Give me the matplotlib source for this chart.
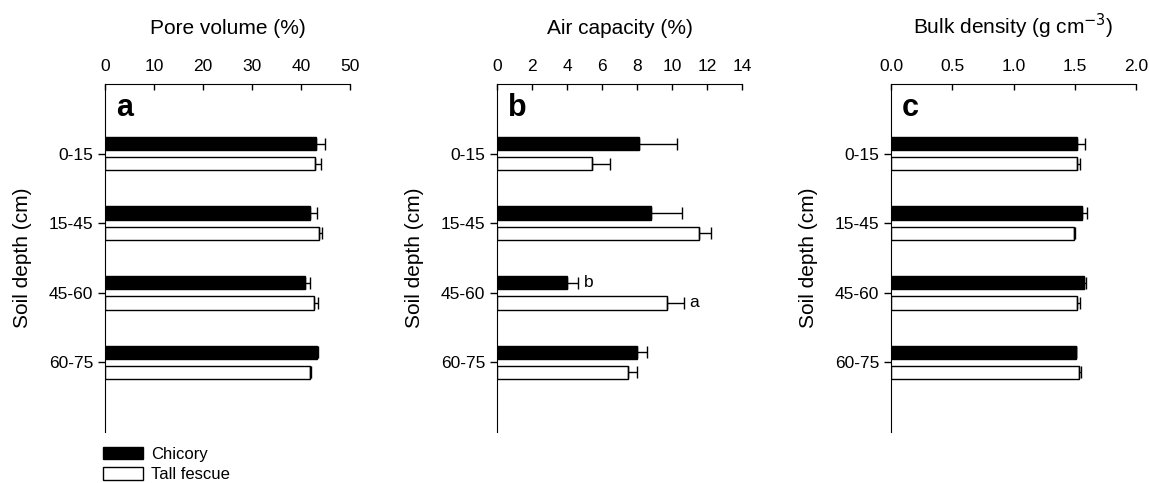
import numpy as np
import matplotlib
matplotlib.use('Agg')
import matplotlib.pyplot as plt
from matplotlib.patches import Patch

plt.rcParams['font.family'] = ['Liberation Sans', 'DejaVu Sans']

depths = ['0-15', '15-45', '45-60', '60-75']

# Pore volume (%)
pore_chic = [43.0, 41.8, 40.9, 43.3]
pore_chic_err = [1.9, 1.4, 0.9, 0.2]
pore_fesc = [42.9, 43.7, 42.7, 41.8]
pore_fesc_err = [1.1, 0.5, 0.8, 0.3]

# Air capacity (%)
air_chic = [8.14, 8.82, 4.01, 8.0]
air_chic_err = [2.16, 1.77, 0.63, 0.55]
air_fesc = [5.43, 11.55, 9.69, 7.48]
air_fesc_err = [1.02, 0.68, 0.98, 0.5]

# Bulk density (g cm-3)
bd_chic = [1.517, 1.558, 1.572, 1.507]
bd_chic_err = [0.063, 0.043, 0.016, 0.0]
bd_fesc = [1.515, 1.493, 1.515, 1.533]
bd_fesc_err = [0.03, 0.005, 0.03, 0.02]

fs = 12.5
fig = plt.figure(figsize=(11.49, 4.83), dpi=100)

panels = [
    (105, 'Pore volume (%)', 'a', pore_chic, pore_chic_err, pore_fesc, pore_fesc_err,
     (0, 50), np.arange(0, 51, 10), '{:.0f}'),
    (497, 'Air capacity (%)', 'b', air_chic, air_chic_err, air_fesc, air_fesc_err,
     (0, 14), np.arange(0, 15, 2), '{:.0f}'),
    (891, 'Bulk density (g cm$^{-3}$)', 'c', bd_chic, bd_chic_err, bd_fesc, bd_fesc_err,
     (0, 2.0), np.arange(0, 2.01, 0.5), '{:.1f}'),
]

y = np.arange(len(depths))
h = 0.19
off = 0.145
ekw = dict(ecolor='black', elinewidth=1, capsize=4, capthick=1)

for left, title, letter, c, ce, f, fe, xl, xt, fmt in panels:
    ax = fig.add_axes([left / 1149, 1 - 432 / 483, 245 / 1149, 348 / 483])
    ax.barh(y - off, c, height=h, color='black', edgecolor='black', linewidth=1,
            xerr=[np.zeros(4), ce], error_kw=ekw)
    ax.barh(y + off, f, height=h, color='white', edgecolor='black', linewidth=1,
            xerr=[np.zeros(4), fe], error_kw=ekw)
    ax.set_xlim(*xl)
    ax.set_ylim(4, -1)
    ax.set_xticks(xt)
    ax.set_xticklabels([fmt.format(v) for v in xt], fontsize=fs)
    ax.set_yticks(y)
    ax.set_yticklabels(depths, fontsize=fs)
    ax.xaxis.tick_top()
    ax.xaxis.set_label_position('top')
    ax.tick_params(axis='x', direction='in', length=4, pad=7, width=1)
    ax.tick_params(axis='y', direction='out', length=5, width=1)
    ax.spines['right'].set_visible(False)
    ax.spines['bottom'].set_visible(False)
    ax.set_xlabel(title, fontsize=15, labelpad=18)
    ax.set_ylabel('Soil depth (cm)', fontsize=15, labelpad=12)
    ax.text(xl[1] * 0.045, -0.65, letter, fontsize=22, fontweight='bold', ha='left', va='center')
    if letter == 'b':
        ax.text(c[2] + ce[2] + 0.3, 2 - off, 'b', fontsize=fs, va='center', ha='left')
        ax.text(f[2] + fe[2] + 0.3, 2 + off, 'a', fontsize=fs, va='center', ha='left')

handles = [Patch(facecolor='black', edgecolor='black', label='Chicory'),
           Patch(facecolor='white', edgecolor='black', label='Tall fescue')]
fig.legend(handles=handles, loc='lower left', bbox_to_anchor=(91 / 1149, -0.022), frameon=False,
           fontsize=12, handlelength=2.4, handleheight=0.8, labelspacing=0.3, handletextpad=0.5,
           borderpad=0.2)

fig.savefig('out.png', dpi=100)
